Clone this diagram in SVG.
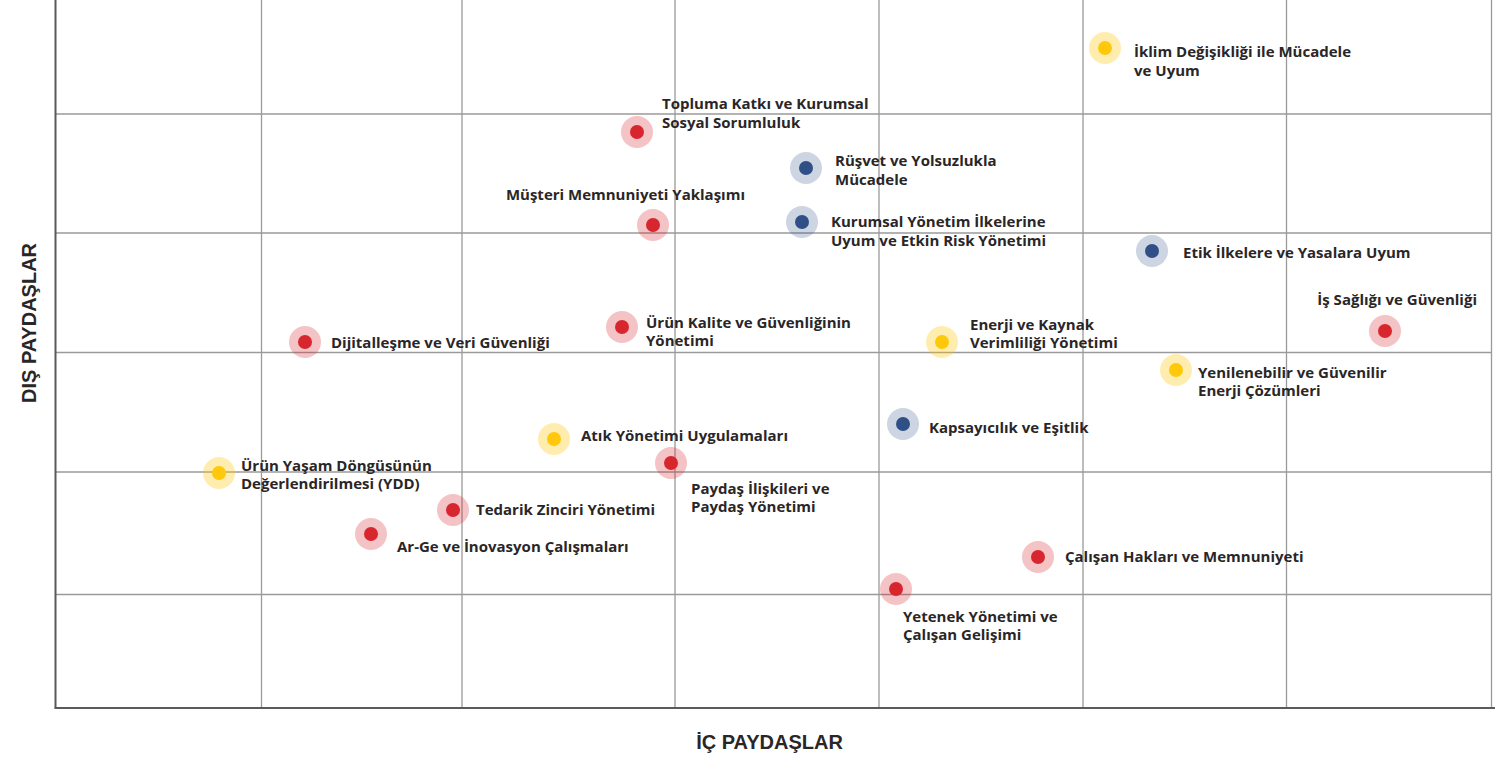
<svg xmlns="http://www.w3.org/2000/svg" width="1511" height="759" viewBox="0 0 1511 759">
<style>
.grid{stroke:#9a9a9a;stroke-width:1.3;fill:none}
.axis{stroke:#5a5a5a;stroke-width:2;fill:none}
.lbl{font-family:"Open Sans",Lato,sans-serif;font-weight:700;font-size:15px;fill:#2a2627}
.ax{font-family:"Liberation Sans",Arial,sans-serif;font-weight:700;font-size:20px;fill:#2a2627}
.hr{fill:#d7262e;opacity:0.28}.dr{fill:#d7262e}
.hy{fill:#ffc80a;opacity:0.32}.dy{fill:#ffc80a}
.hb{fill:#2f4f86;opacity:0.24}.db{fill:#2f4f86}
</style>
<rect width="1511" height="759" fill="#fff"/>
<g id="grid">
<line class="grid" x1="261.5" y1="0" x2="261.5" y2="708" stroke="#c4c4c4"/>
<line class="grid" x1="462" y1="0" x2="462" y2="708"/>
<line class="grid" x1="675" y1="0" x2="675" y2="708"/>
<line class="grid" x1="879" y1="0" x2="879" y2="708"/>
<line class="grid" x1="1083" y1="0" x2="1083" y2="708"/>
<line class="grid" x1="1286.5" y1="0" x2="1286.5" y2="708"/>
<line class="grid" x1="1491.5" y1="0" x2="1491.5" y2="708"/>
<line class="grid" x1="55" y1="114" x2="1492" y2="114"/>
<line class="grid" x1="55" y1="233" x2="1492" y2="233"/>
<line class="grid" x1="55" y1="352.5" x2="1492" y2="352.5"/>
<line class="grid" x1="55" y1="472" x2="1492" y2="472"/>
<line class="grid" x1="55" y1="594.5" x2="1492" y2="594.5"/>
<line class="axis" x1="55.5" y1="0" x2="55.5" y2="708" stroke="#7a7a7a"/>
<line class="axis" x1="54.5" y1="708" x2="1495" y2="708"/>
</g>
<text class="ax" transform="translate(36,323) rotate(-90)" text-anchor="middle">DIŞ PAYDAŞLAR</text>
<text class="ax" x="769.5" y="749" text-anchor="middle">İÇ PAYDAŞLAR</text>
<g id="n1"><circle class="hy" cx="1105" cy="48" r="16"/><circle class="dy" cx="1105" cy="48" r="7"/><text class="lbl" x="1134" y="57">İklim Değişikliği ile Mücadele</text><text class="lbl" x="1134" y="76">ve Uyum</text></g>
<g id="n2"><circle class="hr" cx="637" cy="132" r="16"/><circle class="dr" cx="637" cy="132" r="7"/><text class="lbl" x="662" y="109">Topluma Katkı ve Kurumsal</text><text class="lbl" x="662" y="128">Sosyal Sorumluluk</text></g>
<g id="n3"><circle class="hb" cx="806" cy="168" r="16"/><circle class="db" cx="806" cy="168" r="7"/><text class="lbl" x="835" y="166">Rüşvet ve Yolsuzlukla</text><text class="lbl" x="835" y="185">Mücadele</text></g>
<g id="n4"><circle class="hr" cx="653" cy="225" r="16"/><circle class="dr" cx="653" cy="225" r="7"/><text class="lbl" x="745" y="200" text-anchor="end">Müşteri Memnuniyeti Yaklaşımı</text></g>
<g id="n5"><circle class="hb" cx="802" cy="222" r="16"/><circle class="db" cx="802" cy="222" r="7"/><text class="lbl" x="831" y="227">Kurumsal Yönetim İlkelerine</text><text class="lbl" x="831" y="246">Uyum ve Etkin Risk Yönetimi</text></g>
<g id="n6"><circle class="hb" cx="1152" cy="251" r="16"/><circle class="db" cx="1152" cy="251" r="7"/><text class="lbl" x="1183" y="258">Etik İlkelere ve Yasalara Uyum</text></g>
<g id="n7"><circle class="hr" cx="1385" cy="331" r="16"/><circle class="dr" cx="1385" cy="331" r="7"/><text class="lbl" x="1477" y="305" text-anchor="end">İş Sağlığı ve Güvenliği</text></g>
<g id="n8"><circle class="hr" cx="305" cy="342" r="16"/><circle class="dr" cx="305" cy="342" r="7"/><text class="lbl" x="331" y="348">Dijitalleşme ve Veri Güvenliği</text></g>
<g id="n9"><circle class="hr" cx="622" cy="327" r="16"/><circle class="dr" cx="622" cy="327" r="7"/><text class="lbl" x="646" y="328">Ürün Kalite ve Güvenliğinin</text><text class="lbl" x="646" y="346">Yönetimi</text></g>
<g id="n10"><circle class="hy" cx="942" cy="342" r="16"/><circle class="dy" cx="942" cy="342" r="7"/><text class="lbl" x="970" y="330">Enerji ve Kaynak</text><text class="lbl" x="970" y="348">Verimliliği Yönetimi</text></g>
<g id="n11"><circle class="hy" cx="1176" cy="370" r="16"/><circle class="dy" cx="1176" cy="370" r="7"/><text class="lbl" x="1198" y="378">Yenilenebilir ve Güvenilir</text><text class="lbl" x="1198" y="396">Enerji Çözümleri</text></g>
<g id="n12"><circle class="hb" cx="903" cy="424" r="16"/><circle class="db" cx="903" cy="424" r="7"/><text class="lbl" x="929" y="433">Kapsayıcılık ve Eşitlik</text></g>
<g id="n13"><circle class="hy" cx="554" cy="439" r="16"/><circle class="dy" cx="554" cy="439" r="7"/><text class="lbl" x="581" y="441">Atık Yönetimi Uygulamaları</text></g>
<g id="n14"><circle class="hr" cx="671" cy="463" r="16"/><circle class="dr" cx="671" cy="463" r="7"/><text class="lbl" x="691" y="494">Paydaş İlişkileri ve</text><text class="lbl" x="691" y="512">Paydaş Yönetimi</text></g>
<g id="n15"><circle class="hy" cx="219" cy="473" r="16"/><circle class="dy" cx="219" cy="473" r="7"/><text class="lbl" x="241" y="471">Ürün Yaşam Döngüsünün</text><text class="lbl" x="241" y="489">Değerlendirilmesi (YDD)</text></g>
<g id="n16"><circle class="hr" cx="453" cy="510" r="16"/><circle class="dr" cx="453" cy="510" r="7"/><text class="lbl" x="476" y="515">Tedarik Zinciri Yönetimi</text></g>
<g id="n17"><circle class="hr" cx="371" cy="534" r="16"/><circle class="dr" cx="371" cy="534" r="7"/><text class="lbl" x="397" y="552">Ar-Ge ve İnovasyon Çalışmaları</text></g>
<g id="n18"><circle class="hr" cx="1038" cy="557" r="16"/><circle class="dr" cx="1038" cy="557" r="7"/><text class="lbl" x="1065" y="562">Çalışan Hakları ve Memnuniyeti</text></g>
<g id="n19"><circle class="hr" cx="896" cy="589" r="16"/><circle class="dr" cx="896" cy="589" r="7"/><text class="lbl" x="903" y="622">Yetenek Yönetimi ve</text><text class="lbl" x="903" y="640">Çalışan Gelişimi</text></g>
<g id="connectors"></g>
</svg>
